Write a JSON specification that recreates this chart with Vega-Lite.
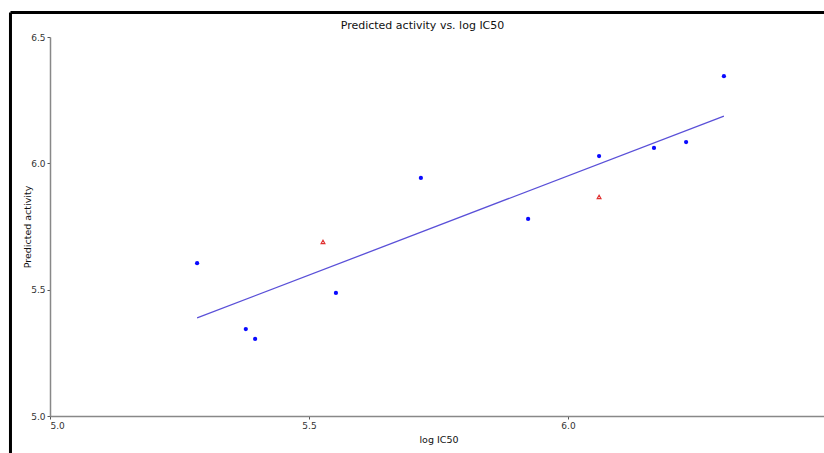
{
  "$schema": "https://vega.github.io/schema/vega-lite/v6.json",
  "autosize": "none",
  "width": 777,
  "height": 379,
  "padding": {"left": 50, "top": 37, "right": 0, "bottom": 37},
  "background": "white",
  "config": {
    "font": "DejaVu Sans",
    "view": {"stroke": null},
    "axis": {"grid": false, "domainColor": "#888888", "tickColor": "#555555", "tickSize": 3, "labelFontSize": 9, "labelColor": "#333333", "titleFontSize": 9.5, "titleFontWeight": "normal", "titleColor": "#111111", "domainWidth": 1.5}
  },
  "title": {"text": "Predicted activity vs. log IC50", "fontSize": 11, "fontWeight": "normal", "color": "#111111", "anchor": "middle", "offset": -20, "dx": -16},
  "datasets": {
    "train": [
      {"logIC50": 5.284, "predicted": 5.605},
      {"logIC50": 5.378, "predicted": 5.344},
      {"logIC50": 5.396, "predicted": 5.305},
      {"logIC50": 5.552, "predicted": 5.487},
      {"logIC50": 5.716, "predicted": 5.942},
      {"logIC50": 5.923, "predicted": 5.780},
      {"logIC50": 6.060, "predicted": 6.029},
      {"logIC50": 6.166, "predicted": 6.061},
      {"logIC50": 6.228, "predicted": 6.084},
      {"logIC50": 6.301, "predicted": 6.345}
    ],
    "test": [
      {"logIC50": 5.527, "predicted": 5.689},
      {"logIC50": 6.060, "predicted": 5.867}
    ],
    "fit": [
      {"logIC50": 5.284, "predicted": 5.388},
      {"logIC50": 6.301, "predicted": 6.187}
    ]
  },
  "layer": [
    {
      "data": {"name": "fit"},
      "mark": {"type": "line", "color": "#5a50d8", "strokeWidth": 1.3},
      "encoding": {
        "x": {"field": "logIC50", "type": "quantitative", "scale": {"domain": [5.0, 6.5], "nice": false, "zero": false},
              "axis": {"title": "log IC50", "values": [5.0, 5.5, 6.0], "format": ".1f", "titlePadding": 4, "labelPadding": 2}},
        "y": {"field": "predicted", "type": "quantitative", "scale": {"domain": [5.0, 6.5], "nice": false, "zero": false},
              "axis": {"title": "Predicted activity", "values": [5.0, 5.5, 6.0, 6.5], "format": ".1f", "titlePadding": -2, "labelPadding": 2}}
      }
    },
    {
      "data": {"name": "train"},
      "mark": {"type": "point", "shape": "circle", "filled": true, "color": "#0a0aff", "size": 18, "opacity": 1},
      "encoding": {
        "x": {"field": "logIC50", "type": "quantitative"},
        "y": {"field": "predicted", "type": "quantitative"}
      }
    },
    {
      "data": {"name": "test"},
      "mark": {"type": "point", "shape": "triangle-up", "filled": false, "color": "#e03030", "size": 14, "strokeWidth": 1.2, "opacity": 1},
      "encoding": {
        "x": {"field": "logIC50", "type": "quantitative"},
        "y": {"field": "predicted", "type": "quantitative"}
      }
    },
    {
      "data": {"values": [{}]},
      "mark": {"type": "rule", "color": "black", "strokeWidth": 3, "clip": false},
      "encoding": {"x": {"datum": 4.9237}, "y": {"datum": 6.597}, "y2": {"datum": 4.84}}
    },
    {
      "data": {"values": [{}]},
      "mark": {"type": "rule", "color": "black", "strokeWidth": 3, "clip": false},
      "encoding": {"x": {"datum": 4.9237}, "x2": {"datum": 6.52}, "y": {"datum": 6.597}}
    }
  ]
}
